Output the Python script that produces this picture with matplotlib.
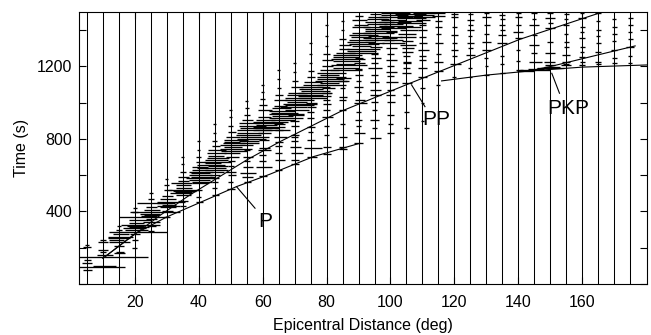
import matplotlib
matplotlib.use('Agg')
import matplotlib.pyplot as plt
from matplotlib.ticker import MultipleLocator

plt.rcParams['font.family'] = ['Liberation Sans', 'DejaVu Sans']

# station distances (deg), one trace each
trace_dist = list(range(5, 180, 5))

# wiggle swings: (time s, swing left deg, swing right deg)
w005 = [(75, 1.2, 1.5), (117, 1.5, 1.5), (130, 1, 1.2), (202, 1.2, 1.2), (215, 0.6, 0.6)]
w010 = [(92, 8, 7), (100, 3, 4), (150, 8, 14), (160, 2, 3), (178, 1, 1), (188, 1.5, 1.5),
        (233, 1.5, 1.5), (245, 0.8, 0.8)]
w015 = [(169, 1.5, 2), (178, 1, 1.5), (210, 1.5, 1.5), (233, 3, 3.5), (243, 3.2, 1.5),
        (252, 3.5, 3.5), (261, 3.4, 4.4), (275, 2, 3), (300, 1, 1), (320, 0.6, 0.6)]
w020 = [(200, 0.8, 0.8), (240, 1, 1), (277, 1.5, 1.5), (288, 8, 10), (298, 3, 4), (307, 3.6, 3.6),
        (312, 2, 4.5), (318, 2.5, 3), (325, 4.2, 7.8), (335, 2, 3), (353, 2, 5), (371, 5, 10),
        (395, 1, 1), (420, 0.6, 0.6)]
w025 = [(290, 1, 1), (320, 1, 1.5), (344, 2.5, 3), (360, 1.5, 2), (375, 3, 2), (381, 2, 2.5),
        (388, 3.5, 3), (399, 6.5, 9), (410, 2, 3), (425, 1.5, 2), (445, 4.5, 6.5), (470, 1, 1),
        (500, 0.6, 0.6)]
w030 = [(370, 1, 1), (400, 1.5, 2), (425, 2, 3), (432, 3, 4), (438, 1.5, 3), (445, 3, 2.5),
        (454, 3.2, 5.7), (470, 2, 3), (485, 1.5, 2), (520, 1, 1.5), (545, 0.8, 0.8), (580, 0.5, 0.5)]
w035 = [(430, 1, 1), (460, 1.5, 1.5), (490, 2, 2.5), (500, 4, 3), (507, 2.5, 3), (512, 3, 4),
        (518, 4.5, 5), (530, 2, 3), (545, 2, 2.5), (555, 3.6, 3), (570, 1.5, 2), (592, 1.5, 2),
        (620, 0.8, 1), (660, 0.5, 0.5), (700, 0.5, 0.5)]
w040 = [(450, 1, 1.2), (480, 0.8, 0.8), (520, 1, 1), (557, 2, 3), (564, 2, 4), (575, 3, 3.5),
        (585, 3.9, 5.5), (592, 2.5, 5), (600, 3, 4), (610, 2.5, 3.5), (620, 3, 4.5), (629, 2, 3),
        (647, 2, 3), (675, 1, 2), (700, 0.8, 0.8), (740, 0.5, 0.5), (790, 0.5, 0.5)]
w045 = [(490, 1, 1.2), (530, 0.8, 0.8), (560, 1, 1), (585, 1.2, 1.2), (601, 1.5, 1.5), (620, 2, 3),
        (630, 3, 4), (640, 5.5, 3.5), (648, 2, 4), (656, 5.7, 3.1), (667, 3, 2), (675, 3.5, 5),
        (685, 3, 4), (694, 2.5, 4.5), (705, 2, 3), (722, 2.5, 3.5), (739, 2, 3.5), (760, 1, 1.5),
        (790, 0.8, 0.8), (830, 0.5, 0.5), (880, 0.5, 0.5)]
w050 = [(525, 1.2, 1.2), (565, 0.8, 0.8), (600, 1, 1.5), (619, 1.5, 1.5), (650, 1, 1), (680, 1, 1.2),
        (702, 1.5, 2.5), (722, 2, 3), (735, 3, 5), (745, 3.5, 6.5), (755, 2, 3.5), (765, 3.5, 7),
        (775, 2.5, 4.5), (785, 2, 3), (794, 2, 5.5), (812, 1.5, 3), (840, 1, 1.5), (870, 0.8, 0.8),
        (920, 0.5, 0.5), (960, 0.5, 0.5)]
w055 = [(564, 1, 1.2), (592, 1.5, 2), (610, 2, 3), (647, 1.2, 2), (680, 1, 1), (702, 1.2, 2),
        (740, 1, 1), (777, 2, 4), (790, 2.5, 4), (800, 3, 6), (812, 2, 7), (822, 3.5, 4.5), (835, 3, 5),
        (848, 3, 8), (860, 2, 7.5), (872, 2.5, 6), (888, 2.5, 4), (905, 1.5, 2), (930, 1, 1),
        (970, 0.6, 0.6), (1010, 0.5, 0.5)]
w060 = [(595, 1.2, 1.5), (647, 2, 3), (680, 1, 1), (710, 1, 1), (739, 1.5, 2.5), (750, 1.2, 2.2),
        (794, 1, 2), (830, 1.5, 2.5), (850, 3, 8.5), (860, 2.5, 5), (868, 3, 7), (878, 2, 4.5),
        (887, 2.5, 6.5), (895, 3, 8), (905, 2, 4), (920, 1.5, 2.5), (960, 1.5, 3), (985, 1, 1.5),
        (1020, 0.8, 0.8), (1060, 0.5, 0.5), (1100, 0.5, 0.5)]
w065 = [(630, 1, 1), (684, 1.2, 2), (720, 1, 1), (760, 1, 1), (782, 1.2, 1.5), (812, 1.5, 2.5),
        (850, 1, 1.5), (880, 1.5, 2), (905, 2.5, 5), (915, 3, 7.5), (925, 2, 4.5), (935, 3, 8),
        (945, 2.5, 6), (955, 3, 5), (968, 2, 4), (980, 1.5, 2.5), (1015, 1.5, 2.5), (1040, 1, 1.5),
        (1080, 0.6, 0.6), (1130, 0.5, 0.5), (1180, 0.5, 0.5)]
w070 = [(660, 1.2, 1.5), (684, 1, 1.5), (721, 1.2, 2.5), (757, 1.5, 2), (790, 1, 1), (812, 1, 1.2),
        (822, 1, 1.5), (870, 1, 1.5), (900, 1.5, 1.5), (930, 2, 3), (960, 3, 4.5), (975, 4.6, 4),
        (985, 3, 6), (995, 3.5, 7), (1005, 2.5, 4), (1015, 3, 6), (1025, 3, 5.5), (1040, 2.5, 4),
        (1053, 2, 3), (1088, 1, 2.5), (1120, 0.8, 1), (1170, 0.5, 0.5), (1220, 0.5, 0.5)]
w075 = [(702, 1, 2), (749, 2, 3.5), (794, 1, 1.5), (840, 0.8, 0.8), (868, 1, 1.5), (914, 1, 1.2),
        (950, 1, 1), (978, 1.2, 1.8), (1000, 1.5, 2), (1024, 3.5, 5), (1035, 4, 6.5), (1045, 2, 4),
        (1055, 4, 6.7), (1065, 3, 6), (1075, 3.5, 4), (1088, 3, 6), (1100, 2.5, 4), (1116, 2, 3.5),
        (1140, 1.2, 1.5), (1175, 0.8, 1), (1220, 0.5, 0.5), (1270, 0.5, 0.5), (1330, 0.5, 0.5)]
w080 = [(715, 1.2, 1.5), (757, 1, 1.5), (820, 0.8, 0.8), (870, 0.8, 0.8), (923, 1.5, 2), (960, 1, 1),
        (990, 1, 1.5), (1015, 1, 1), (1052, 1.5, 1.5), (1080, 1.5, 2.5), (1098, 3, 6), (1110, 2, 4),
        (1120, 3.5, 6.5), (1130, 3, 5.5), (1140, 3, 6), (1152, 2, 4), (1165, 3, 6), (1180, 2, 4),
        (1200, 1.5, 2), (1235, 1.5, 2), (1270, 1, 1), (1310, 0.6, 0.6), (1370, 0.5, 0.5),
        (1430, 0.5, 0.5)]
w085 = [(745, 1, 1.5), (757, 1, 1.2), (812, 1.2, 1.5), (880, 0.8, 0.8), (960, 1, 1.2), (1015, 1, 1),
        (1030, 1, 1.3), (1080, 0.8, 0.8), (1120, 1.5, 2), (1135, 2, 2.5), (1180, 3.9, 6), (1192, 3, 5),
        (1205, 3.5, 7.7), (1215, 2, 4), (1228, 3, 5.5), (1240, 3.5, 7), (1252, 3, 5), (1265, 3, 6),
        (1274, 2, 4), (1295, 1.2, 2), (1318, 1.2, 2.5), (1350, 1, 1), (1400, 0.6, 0.6),
        (1450, 0.5, 0.5)]
w090 = [(776, 1.5, 1.5), (833, 1.5, 2), (870, 0.8, 0.8), (905, 1, 1.2), (950, 0.8, 0.8),
        (1000, 1.5, 2.5), (1015, 1.2, 2), (1060, 0.8, 0.8), (1088, 1.5, 1.5), (1120, 0.8, 0.8),
        (1153, 1, 1.3), (1185, 1, 1), (1217, 1.5, 2), (1245, 1, 1.5), (1274, 3, 6), (1285, 3.5, 5.5),
        (1298, 3.7, 6.7), (1310, 2, 4), (1322, 3, 6.5), (1335, 3.5, 5), (1348, 3, 6), (1360, 2.5, 4),
        (1372, 3, 6), (1384, 2, 4), (1418, 2, 3.5), (1430, 1.5, 3), (1456, 2, 2.5), (1480, 1, 1.5)]
w095 = [(805, 1.5, 2), (860, 0.8, 0.8), (905, 1.5, 1.5), (960, 0.8, 0.8), (1005, 1, 1), (1040, 1.5, 2),
        (1070, 1.5, 2), (1116, 1.5, 1.5), (1150, 1, 1), (1190, 2, 2.5), (1220, 1, 1), (1245, 1, 2),
        (1270, 1, 1), (1309, 1.5, 2.5), (1330, 2, 3), (1346, 3, 6), (1358, 3.6, 7), (1370, 2, 4.5),
        (1382, 3.5, 6), (1395, 3, 7), (1408, 3, 5), (1420, 3.5, 6), (1432, 2.5, 4), (1445, 3, 6),
        (1460, 2.5, 4.5), (1474, 2, 4), (1490, 1.5, 2)]
w100 = [(830, 1, 1), (880, 0.8, 0.8), (930, 1, 1), (1005, 1, 1.5), (1040, 1.5, 1.5), (1070, 1, 1),
        (1116, 1.5, 2.5), (1145, 1, 1), (1171, 1.5, 2), (1200, 1, 1), (1235, 1.5, 2), (1270, 1, 1),
        (1300, 1.5, 2), (1330, 2.5, 4.5), (1345, 2, 4), (1364, 2.5, 3.5), (1390, 1.5, 2), (1410, 3, 5),
        (1422, 3.5, 7), (1434, 2, 4), (1446, 3.5, 6.5), (1458, 3, 5), (1470, 3.5, 7), (1482, 3, 5.5),
        (1494, 3, 6)]
w105 = [(860, 0.8, 0.8), (950, 0.8, 0.8), (1040, 1, 1), (1110, 1.5, 1.8), (1162, 1.5, 1.5),
        (1190, 1, 1), (1217, 1.2, 1.5), (1226, 1, 1.5), (1260, 1, 1), (1281, 1.5, 2), (1300, 1.5, 2.5),
        (1320, 2, 3), (1340, 1.5, 2), (1360, 2, 3), (1380, 2.5, 3), (1400, 2, 3.5), (1420, 3, 4.5),
        (1440, 3, 6), (1452, 2.5, 5), (1465, 3, 6), (1478, 3, 5), (1490, 3.5, 6)]
w110 = [(900, 0.6, 0.6), (1000, 0.6, 0.6), (1080, 0.8, 0.8), (1144, 1.5, 1.5), (1190, 1.5, 1.5),
        (1235, 1, 1.2), (1260, 1, 1), (1291, 1.5, 2), (1328, 1, 1.5), (1360, 1, 1), (1401, 1.5, 1.5),
        (1430, 1, 1.2), (1455, 2, 2.5), (1470, 3, 4), (1482, 2.5, 3.5), (1494, 3, 4)]
w115 = [(1100, 0.6, 0.6), (1175, 1.5, 1.5), (1226, 1.5, 1.5), (1270, 0.8, 0.8), (1328, 1.2, 1.5),
        (1380, 0.8, 0.8), (1420, 1, 1), (1450, 1, 1.2), (1480, 2, 2), (1495, 1.5, 2)]
w120 = [(1140, 0.6, 0.6), (1215, 1.5, 2), (1260, 0.8, 0.8), (1291, 1.2, 1.2), (1330, 0.8, 0.8),
        (1373, 1.2, 1.2), (1420, 0.8, 0.8), (1470, 1.2, 1.2), (1490, 1, 1)]
w125 = [(1143, 0.5, 0.5), (1190, 0.6, 0.6), (1263, 1.5, 1.5), (1300, 0.8, 0.8), (1328, 1.2, 1.2),
        (1370, 0.6, 0.6), (1401, 1, 1), (1430, 0.8, 0.8), (1456, 1.2, 1.2), (1490, 0.8, 0.8)]
w130 = [(1153, 0.6, 0.8), (1200, 0.5, 0.5), (1245, 0.6, 0.6), (1291, 1.5, 1.5), (1337, 1.5, 1.5),
        (1380, 0.8, 0.8), (1430, 0.8, 1), (1470, 1.5, 1.5), (1495, 0.8, 0.8)]
w135 = [(1162, 0.8, 1), (1215, 0.6, 0.6), (1260, 0.6, 0.6), (1328, 1.5, 1.5), (1373, 1.3, 1.3),
        (1400, 0.8, 0.8), (1429, 1, 1), (1460, 0.8, 0.8), (1484, 1, 1)]
w140 = [(1175, 0.5, 5), (1180, 0.8, 1.5), (1230, 0.6, 0.6), (1290, 0.6, 0.6), (1355, 1, 1.2),
        (1392, 1.5, 1.5), (1430, 0.8, 0.8), (1470, 1, 1.2), (1495, 0.8, 0.8)]
w145 = [(1180, 4.5, 5), (1185, 2, 3), (1226, 1.5, 2.5), (1272, 1, 1), (1318, 1.5, 1.5),
        (1373, 0.8, 0.8), (1429, 1.5, 1.5), (1460, 0.6, 0.6), (1493, 1, 1)]
w150 = [(1190, 4.2, 4.2), (1195, 2, 3), (1210, 1.5, 1.5), (1226, 2, 1.5), (1272, 1.5, 1.5),
        (1337, 1, 1), (1410, 1.5, 1.5), (1440, 0.8, 0.8), (1466, 1.5, 1.5), (1495, 1, 1)]
w155 = [(1208, 1.5, 1.5), (1215, 1, 1), (1226, 1.2, 1.2), (1263, 1.2, 1.2), (1309, 0.8, 0.8),
        (1337, 0.8, 0.8), (1380, 0.6, 0.6), (1429, 1, 1), (1460, 0.6, 0.6), (1490, 0.8, 0.8)]
w160 = [(1208, 1, 1), (1225, 0.8, 0.8), (1254, 1, 1), (1280, 0.6, 0.6), (1309, 0.8, 0.8),
        (1355, 1, 1), (1390, 0.6, 0.6), (1420, 0.8, 0.8), (1466, 1.2, 1.2), (1495, 0.6, 0.6)]
w165 = [(1215, 0.8, 0.8), (1226, 1, 1), (1281, 1, 1), (1328, 0.8, 0.8), (1370, 0.6, 0.6),
        (1401, 0.8, 0.8), (1450, 0.6, 0.6), (1493, 1, 1)]
w170 = [(1217, 0.8, 0.8), (1245, 0.8, 0.8), (1291, 1, 1), (1340, 0.6, 0.6), (1380, 0.8, 0.8),
        (1420, 0.8, 0.8), (1460, 0.6, 0.6)]
w175 = [(1217, 0.6, 0.6), (1260, 0.6, 0.6), (1309, 1.2, 1.2), (1350, 0.8, 0.8), (1390, 0.6, 0.6),
        (1430, 0.8, 0.8), (1466, 0.8, 0.8)]

wiggles = [w005, w010, w015, w020, w025, w030, w035, w040, w045, w050, w055, w060,
           w065, w070, w075, w080, w085, w090, w095, w100, w105, w110, w115, w120,
           w125, w130, w135, w140, w145, w150, w155, w160, w165, w170, w175]

# travel-time curves
p_dist = [10, 20, 30, 37.2, 51.8, 62.2, 75.8, 90.4]
p_time = [142, 277, 370, 425, 537, 605, 702, 776]
pp_dist = [10, 20, 28, 37.2, 55, 65.4, 84.2, 106.1, 140.6, 166.7]
pp_time = [142, 275, 380, 491, 684, 785, 950, 1107, 1350, 1502]
pkpdf_dist = [116, 130, 143.7, 160, 180.3]
pkpdf_time = [1120, 1152, 1175, 1196, 1208]
pkpab_dist = [146, 150, 163, 176.6]
pkpab_time = [1185, 1199, 1255, 1313]

phase_names = ['P', 'PP', 'PKP']
phase_text = [(60.7, 342), (114.3, 905), (155.7, 969)]
phase_pointer = [((51.8, 537), (57.6, 418)), ((106.6, 1098), (110.8, 978)),
                 ((150.5, 1162), (152.9, 1052))]

fig = plt.figure(figsize=(6.51, 3.35), dpi=100)
ax = fig.add_axes([79 / 651, 1 - 284 / 335, 568 / 651, 272 / 335])

ax.vlines(trace_dist, 0, 1500, color='black', lw=0.75)
for d, w in zip(trace_dist, wiggles):
    ts = [e[0] for e in w]
    lo = [d - e[1] for e in w]
    hi = [d + e[2] for e in w]
    ax.hlines(ts, lo, hi, color='black', lw=0.95)

for xs, ys in [(p_dist, p_time), (pp_dist, pp_time),
               (pkpdf_dist, pkpdf_time), (pkpab_dist, pkpab_time)]:
    ax.plot(xs, ys, color='black', lw=0.8)

for name, (tx, ty), (a, b) in zip(phase_names, phase_text, phase_pointer):
    ax.plot([a[0], b[0]], [a[1], b[1]], color='black', lw=0.8)
    ax.text(tx, ty, name, fontsize=15, ha='center', va='center')

ax.set_xlim(2.5, 180.3)
ax.set_ylim(0, 1500)
ax.set_xticks([20, 40, 60, 80, 100, 120, 140, 160])
ax.set_yticks([400, 800, 1200])
ax.yaxis.set_minor_locator(MultipleLocator(200))
ax.tick_params(which='both', direction='in', top=True, right=True, width=0.8, length=5)
ax.tick_params(axis='x', labelsize=11.5, pad=8)
ax.tick_params(axis='y', labelsize=11.5, pad=5)
for s in ax.spines.values():
    s.set_linewidth(0.8)

ax.set_xlabel('Epicentral Distance (deg)', fontsize=11.5)
ax.set_ylabel('Time (s)', fontsize=11.5)
ax.xaxis.set_label_coords(0.5, -0.125)
ax.yaxis.set_label_coords(-0.088, 0.5)

fig.savefig('out.png', dpi=100)
